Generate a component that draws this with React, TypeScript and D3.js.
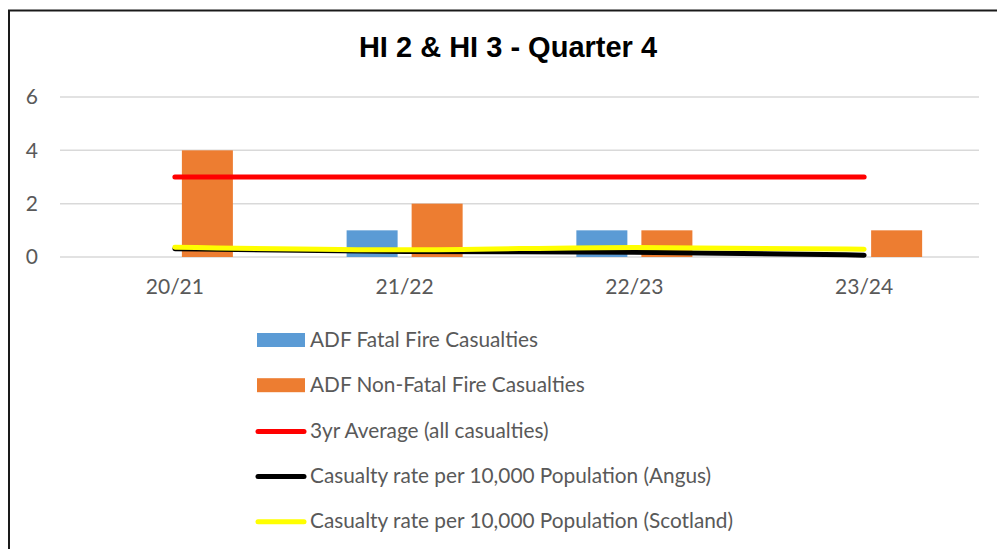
import React from "react";
import * as d3 from "d3";

const categories = ["20/21", "21/22", "22/23", "23/24"];
const fatal = [0, 1, 1, 0];
const nonFatal = [4, 2, 1, 1];
const avg3yr = [3, 3, 3, 3];
const angus = [0.31, 0.21, 0.18, 0.07];
const scotland = [0.37, 0.27, 0.36, 0.29];
const yTicks = [0, 2, 4, 6];

const legendItems = [
  { label: "ADF Fatal Fire Casualties", type: "bar", color: "#5B9BD5" },
  { label: "ADF Non-Fatal Fire Casualties", type: "bar", color: "#ED7D31" },
  { label: "3yr Average (all casualties)", type: "line", color: "#FF0000" },
  { label: "Casualty rate per 10,000 Population (Angus)", type: "line", color: "#000000" },
  { label: "Casualty rate per 10,000 Population (Scotland)", type: "line", color: "#FFFF00" },
];

const W = 997;
const H = 549;
const FONT = "Lato, 'Open Sans', sans-serif";

export default function App() {
  const x = d3.scaleBand<string>().domain(categories).range([60, 979]).padding(0);
  const y = d3.scaleLinear().domain([0, 6]).range([257, 97]);
  const bw = x.bandwidth();
  const barW = bw * 0.222;
  const gap = bw * 0.061;
  const cx = (c: string) => (x(c) as number) + bw / 2;

  const lineGen = (vals: number[]) =>
    d3
      .line<number>()
      .x((_, i) => cx(categories[i]))
      .y((v) => y(v))
      .curve(d3.curveMonotoneX)(vals) as string;

  return (
    <svg
      width={W}
      height={H}
      style={{ position: "fixed", left: 0, top: 0, background: "#fff" }}
    >
      <rect x={0} y={0} width={W} height={H} fill="#fff" />
      <rect x={9} y={10.5} width={W + 20} height={H + 20} fill="none" stroke="#1a1a1a" strokeWidth={2} />
      <text
        x={508}
        y={57}
        textAnchor="middle"
        fontFamily="'Liberation Sans', Arial, sans-serif"
        fontWeight="bold"
        fontSize={29}
        fill="#000"
      >
        HI 2 &amp; HI 3 - Quarter 4
      </text>
      {yTicks.map((t) => (
        <g key={t}>
          <line x1={60} x2={979} y1={y(t)} y2={y(t)} stroke="#d9d9d9" strokeWidth={1.5} />
          <text
            x={38}
            y={y(t)}
            dy="0.35em"
            textAnchor="end"
            fontFamily={FONT}
            fontSize={21}
            fill="#595959"
          >
            {t}
          </text>
        </g>
      ))}
      {categories.map((c, i) => (
        <g key={c}>
          <rect
            x={cx(c) - gap / 2 - barW}
            y={y(fatal[i])}
            width={barW}
            height={y(0) - y(fatal[i])}
            fill="#5B9BD5"
          />
          <rect
            x={cx(c) + gap / 2}
            y={y(nonFatal[i])}
            width={barW}
            height={y(0) - y(nonFatal[i])}
            fill="#ED7D31"
          />
          <text
            x={cx(c)}
            y={294}
            textAnchor="middle"
            fontFamily={FONT}
            fontSize={21}
            fill="#595959"
          >
            {c}
          </text>
        </g>
      ))}
      <path d={lineGen(avg3yr)} fill="none" stroke="#FF0000" strokeWidth={5} strokeLinecap="round" />
      <path d={lineGen(angus)} fill="none" stroke="#000000" strokeWidth={5} strokeLinecap="round" />
      <path d={lineGen(scotland)} fill="none" stroke="#FFFF00" strokeWidth={5} strokeLinecap="round" />
      {legendItems.map((item, i) => {
        const ly = 340 + i * 45.2;
        return (
          <g key={item.label}>
            {item.type === "bar" ? (
              <rect x={257} y={ly - 7} width={48} height={14} fill={item.color} />
            ) : (
              <line
                x1={258}
                x2={304}
                y1={ly + 1}
                y2={ly + 1}
                stroke={item.color}
                strokeWidth={5}
                strokeLinecap="round"
              />
            )}
            <text
              x={310}
              y={ly}
              dy="0.35em"
              fontFamily={FONT}
              fontSize={20.8}
              fill="#595959"
            >
              {item.label}
            </text>
          </g>
        );
      })}
    </svg>
  );
}
